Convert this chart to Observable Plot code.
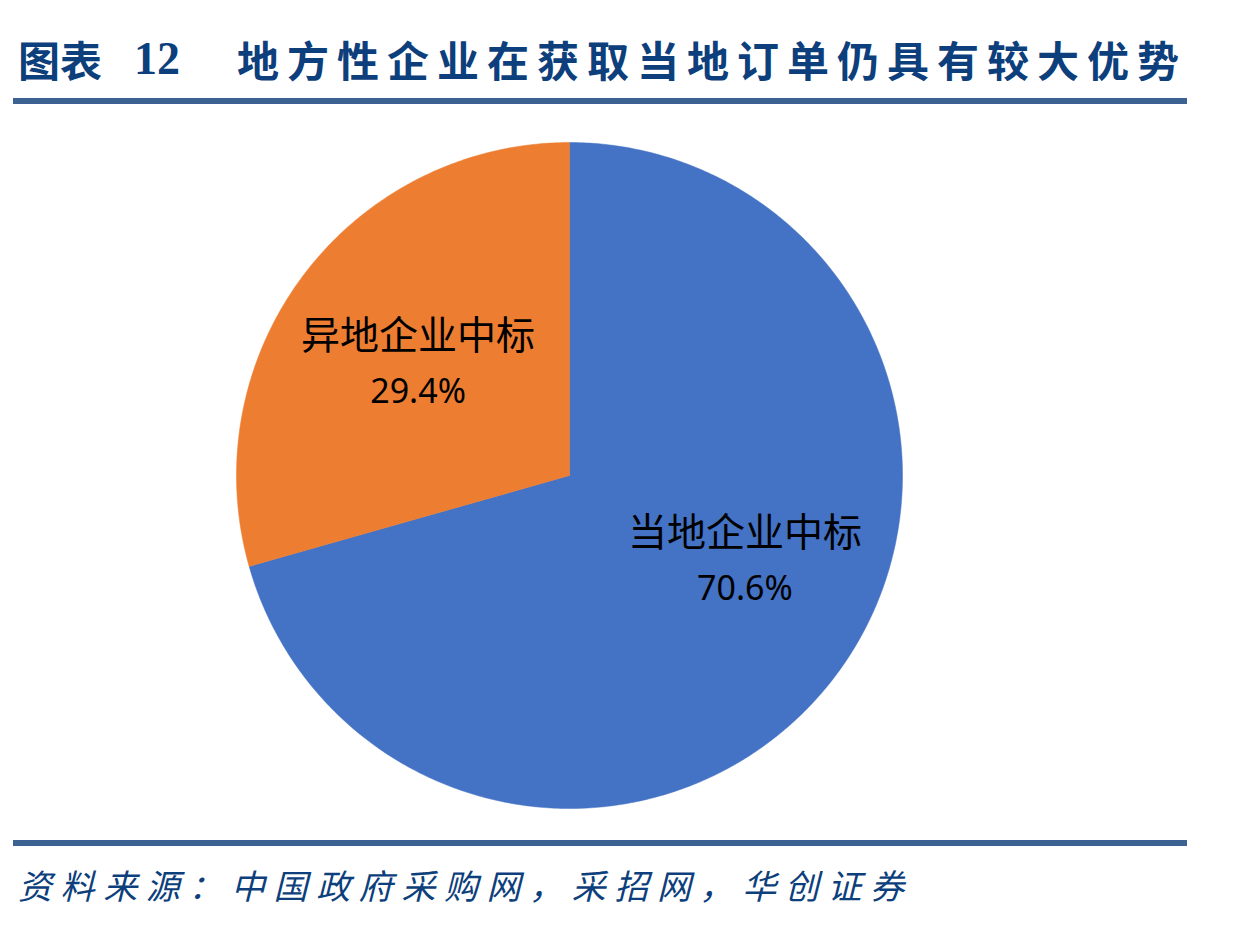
<!DOCTYPE html>
<html>
<head>
<meta charset="utf-8">
<script src="https://cdn.jsdelivr.net/npm/d3@7"></script>
<script src="https://cdn.jsdelivr.net/npm/@observablehq/plot@0.6"></script>
<style>
  html, body { margin: 0; padding: 0; background: #fff; }
  body { width: 1234px; height: 926px; position: relative; overflow: hidden; }
  #title { position: absolute; left: 0; top: 31px; width: 1234px; height: 56px; white-space: nowrap;
    color: #0d3f7c; font-family: "Noto Sans CJK SC", sans-serif; font-weight: 700; font-size: 42px; line-height: 56px; }
  #title span { position: absolute; top: 0; }
  #title .lab { left: 18px; letter-spacing: 0px; }
  #title .num { left: 134px; font-family: "Liberation Serif", serif; font-size: 46px; }
  #title .main { left: 237px; letter-spacing: 8px; }
  .rule { position: absolute; left: 13px; width: 1174px; background: #3b6293; }
  #rule1 { top: 98px; height: 6px; }
  #rule2 { top: 840px; height: 6px; }
  #chart { position: absolute; left: 0; top: 110px; }
  #source { position: absolute; left: 18px; top: 862px; white-space: nowrap; color: #0d3f7c;
    font-family: "Noto Sans CJK SC", sans-serif; font-style: italic; font-size: 34px; letter-spacing: 8.6px; line-height: 46px; }
</style>
</head>
<body>
<div id="title"><span class="lab">图表</span><span class="num">12</span><span class="main">地方性企业在获取当地订单仍具有较大优势</span></div>
<div class="rule" id="rule1"></div>
<div id="chart"></div>
<div class="rule" id="rule2"></div>
<div id="source">资料来源：中国政府采购网，采招网，华创证券</div>
<script>
// ---- data ----
const categories = ["当地企业中标", "异地企业中标"];
const shares = [70.6, 29.4];
const pctLabels = ["70.6%", "29.4%"];
const colors = ["#4472c4", "#ed7d31"];

// ---- build slices from the data via d3.pie ----
const pie = d3.pie().sort(null).value(d => d.value)(
  categories.map((name, i) => ({name, value: shares[i], label: pctLabels[i]}))
);
const outline = [];
for (const s of pie) {
  const n = Math.max(2, Math.ceil((s.endAngle - s.startAngle) / 0.01));
  outline.push({name: s.data.name, x: 0, y: 0});
  for (let k = 0; k <= n; k++) {
    const a = s.startAngle + (s.endAngle - s.startAngle) * k / n;
    outline.push({name: s.data.name, x: Math.sin(a), y: Math.cos(a)});
  }
  outline.push({name: s.data.name, x: 0, y: 0});
}
const labelR = 0.57;
const labels = pie.map(s => {
  const a = (s.startAngle + s.endAngle) / 2;
  return {name: s.data.name, pct: s.data.label, x: labelR * Math.sin(a), y: labelR * Math.cos(a)};
});
const big = labels.filter(d => d.name === categories[0]);
const small = labels.filter(d => d.name === categories[1]);

const nameFont = {fontSize: 39, fill: "#000", fontFamily: "'Noto Sans CJK SC', sans-serif"};
const pctFont = {fontSize: 34, fill: "#000", fontFamily: "'Noto Sans', 'Open Sans', sans-serif"};

const plot = Plot.plot({
  width: 1234,
  height: 725,
  marginLeft: 236,
  marginRight: 332,
  marginTop: 32,
  marginBottom: 27,
  x: {domain: [-1, 1], axis: null},
  y: {domain: [-1, 1], axis: null},
  color: {domain: categories, range: colors},
  style: {background: "transparent", overflow: "visible"},
  marks: [
    Plot.line(outline, {x: "x", y: "y", z: "name", fill: "name", stroke: "name", strokeWidth: 0.5, curve: "linear-closed"}),
    Plot.text(small, {x: "x", y: "y", text: "name", dy: -25, ...nameFont}),
    Plot.text(small, {x: "x", y: "y", text: "pct", dy: 31, ...pctFont}),
    Plot.text(big, {x: "x", y: "y", text: "name", dx: 24, dy: -56, ...nameFont}),
    Plot.text(big, {x: "x", y: "y", text: "pct", dx: 24, dy: -1, ...pctFont})
  ]
});
document.getElementById("chart").appendChild(plot);
</script>
</body>
</html>
